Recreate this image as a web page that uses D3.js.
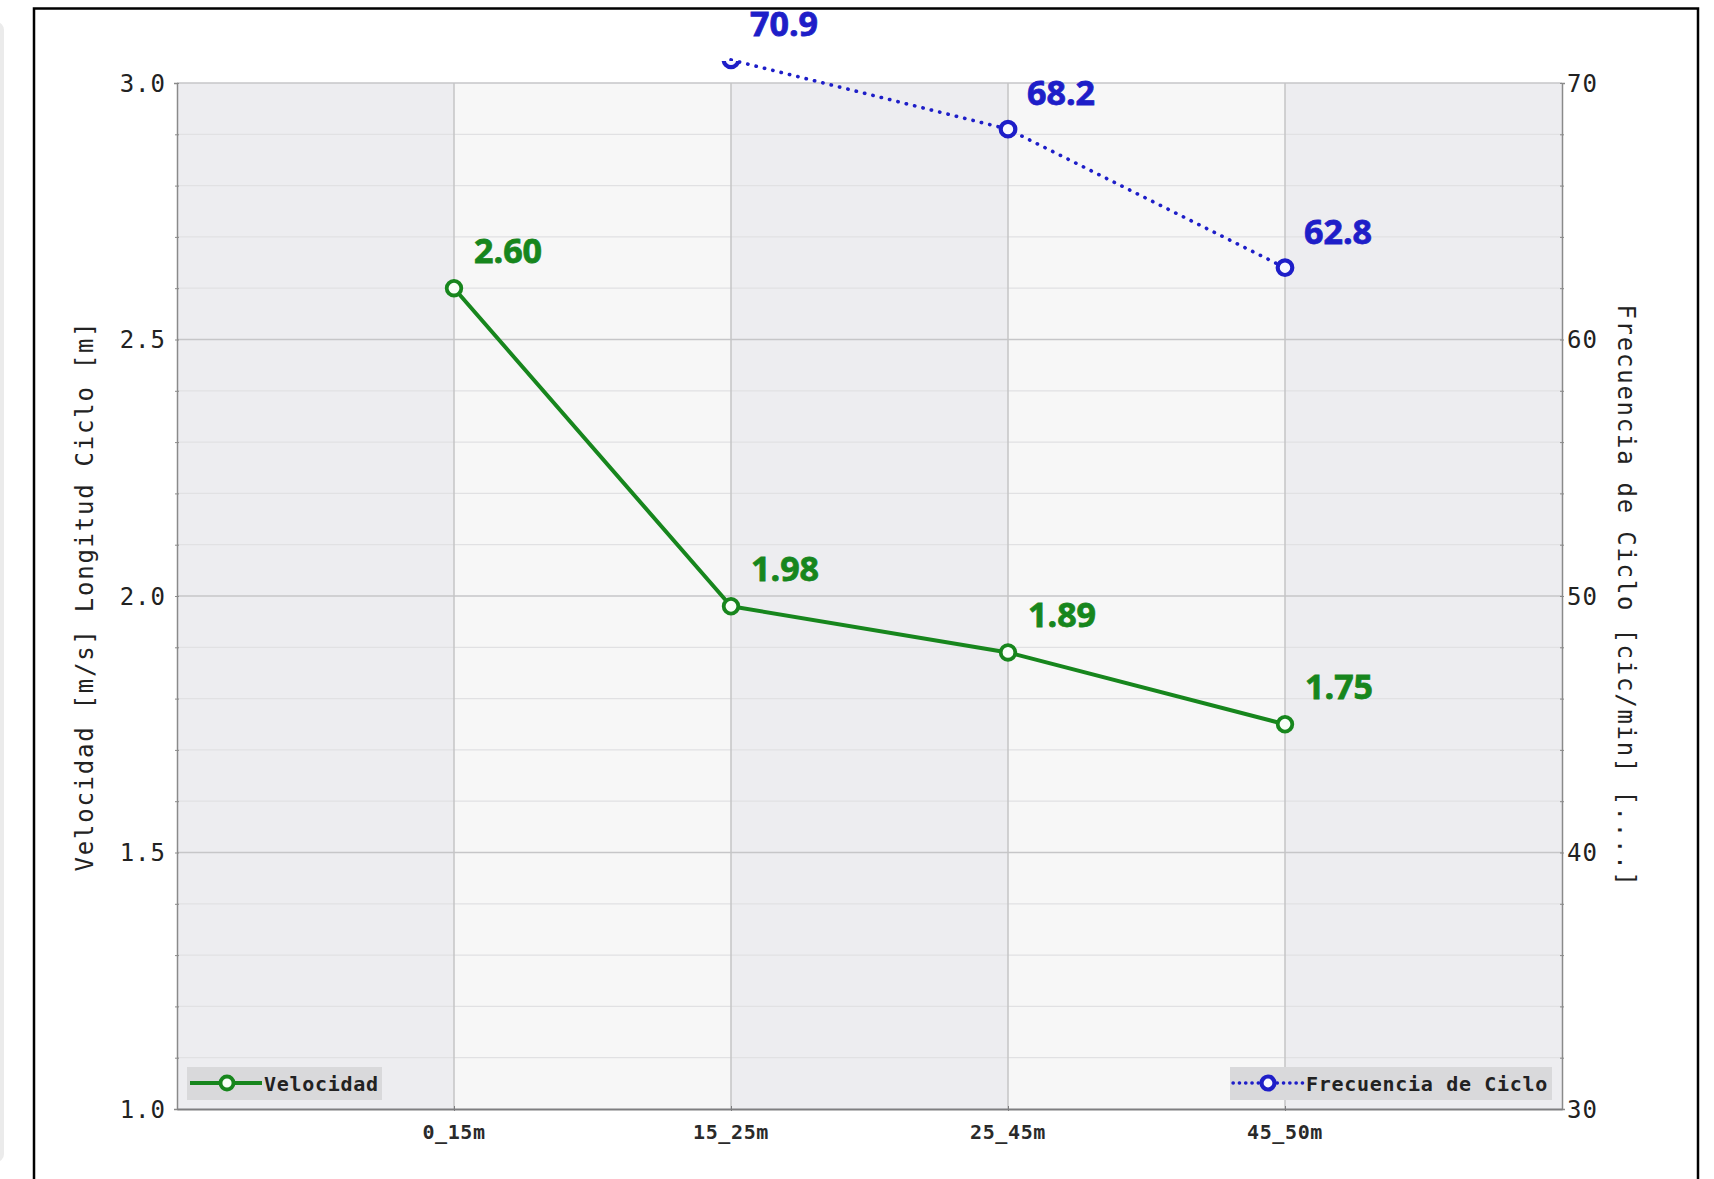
<!DOCTYPE html>
<html>
<head>
<meta charset="utf-8">
<script src="https://cdn.jsdelivr.net/npm/d3@7"></script>
<style>
  html, body { margin: 0; padding: 0; background: #ffffff; }
  svg { display: block; }
</style>
</head>
<body>
<script>
// ---------- data ----------
const categories = ["0_15m", "15_25m", "25_45m", "45_50m"];
const velocidad = [2.60, 1.98, 1.89, 1.75];
const frecuencia = [null, 70.9, 68.2, 62.8];
const velocidadLabels = ["2.60", "1.98", "1.89", "1.75"];
const frecuenciaLabels = [null, "70.9", "68.2", "62.8"];
const leftTicks = [1.0, 1.5, 2.0, 2.5, 3.0];
const rightTicks = [30, 40, 50, 60, 70];
const leftTitle = "Velocidad [m/s]  Longitud Ciclo [m]";
const rightTitle = "Frecuencia de Ciclo [cic/min] [....]";
const legendLeft = "Velocidad";
const legendRight = "Frecuencia de Ciclo";

// ---------- layout ----------
const W = 1714, H = 1179;
const L = 177, R = 1562, T = 83, B = 1109;
const GREEN = "#17861d", BLUE = "#1e1ec8";
const MONO = "'DejaVu Sans Mono', 'Liberation Mono', monospace";
const SANS = "'Open Sans', 'Noto Sans', sans-serif";

const svg = d3.select("body").append("svg").attr("width", W).attr("height", H);

// side panel and frame
svg.append("rect").attr("x", -20).attr("y", 22).attr("width", 24).attr("height", 1140)
  .attr("rx", 8).attr("fill", "#ebebeb");
svg.append("rect").attr("x", 34).attr("y", 8.5).attr("width", 1664).attr("height", 1300)
  .attr("fill", "none").attr("stroke", "#000").attr("stroke-width", 2.5);

// scales
const x = d3.scalePoint().domain(categories).range([L, R]).padding(1);
const step = x.step();
const yL = d3.scaleLinear().domain([1, 3]).range([B, T]);
const yR = d3.scaleLinear().domain([30, 70]).range([B, T]);

// background bands
const bandIdx = d3.range(categories.length + 1);
svg.append("g").selectAll("rect").data(bandIdx).join("rect")
  .attr("x", i => L + i * step).attr("y", T)
  .attr("width", step).attr("height", B - T)
  .attr("fill", i => i % 2 === 0 ? "#ededf0" : "#f7f7f7");

// minor / major horizontal grid
const minor = d3.range(0, 21).map(i => 1 + i * 0.1);
svg.append("g").selectAll("line").data(minor.filter((v, i) => i % 5 !== 0)).join("line")
  .attr("x1", L).attr("x2", R).attr("y1", d => yL(d)).attr("y2", d => yL(d))
  .attr("stroke", "#e1e1e3").attr("stroke-width", 1.2);
svg.append("g").selectAll("line").data(leftTicks.filter(d => d > 1)).join("line")
  .attr("x1", L).attr("x2", R).attr("y1", d => yL(d)).attr("y2", d => yL(d))
  .attr("stroke", "#c6c6c8").attr("stroke-width", 1.6);

// vertical grid at categories
svg.append("g").selectAll("line").data(categories).join("line")
  .attr("x1", d => x(d)).attr("x2", d => x(d)).attr("y1", T).attr("y2", B)
  .attr("stroke", "#c4c4c6").attr("stroke-width", 1.5);

// axes
const axLeft = svg.append("g").attr("transform", `translate(${L},0)`)
  .call(d3.axisLeft(yL).tickValues(minor).tickSize(3).tickFormat(""));
axLeft.select(".domain").attr("stroke", "#8a8a8a").attr("stroke-width", 1.5);
axLeft.selectAll(".tick line").attr("stroke", "#8a8a8a").attr("x2", -2).attr("x1", 2);

const axRight = svg.append("g").attr("transform", `translate(${R},0)`)
  .call(d3.axisRight(yR).tickValues(d3.range(30, 70.01, 2)).tickSize(3).tickFormat(""));
axRight.select(".domain").attr("stroke", "#8a8a8a").attr("stroke-width", 1.5);
axRight.selectAll(".tick line").attr("stroke", "#8a8a8a").attr("x1", -2).attr("x2", 2);

const axBottom = svg.append("g").attr("transform", `translate(0,${B})`)
  .call(d3.axisBottom(x).tickSize(3).tickSizeOuter(0).tickFormat(""));
axBottom.select(".domain").attr("stroke", "#7e7e80").attr("stroke-width", 2.2);
axBottom.selectAll(".tick line").attr("stroke", "#7e7e80").attr("y1", -3).attr("y2", 2);

// tick labels
svg.append("g").selectAll("text").data(leftTicks).join("text")
  .attr("x", 166).attr("y", d => yL(d) + 8.5)
  .attr("text-anchor", "end")
  .style("font-family", MONO).style("font-size", "24px").style("letter-spacing", "1px")
  .attr("fill", "#222").text(d => d.toFixed(1));
svg.append("g").selectAll("text").data(rightTicks).join("text")
  .attr("x", 1567).attr("y", d => yR(d) + 8.5)
  .style("font-family", MONO).style("font-size", "24px").style("letter-spacing", "1px")
  .attr("fill", "#222").text(d => d);
svg.append("g").selectAll("text").data(categories).join("text")
  .attr("x", d => x(d)).attr("y", 1139)
  .attr("text-anchor", "middle")
  .style("font-family", MONO).style("font-size", "20px").style("letter-spacing", "0.6px")
  .style("font-weight", "700")
  .attr("fill", "#2a2a2a").text(d => d);

// axis titles
svg.append("text")
  .attr("transform", `translate(93,${(T + B) / 2}) rotate(-90)`)
  .attr("text-anchor", "middle")
  .style("font-family", MONO).style("font-size", "24px").style("letter-spacing", "1.75px")
  .attr("fill", "#222").text(leftTitle);
svg.append("text")
  .attr("transform", `translate(1618,${(T + B) / 2}) rotate(90)`)
  .attr("text-anchor", "middle")
  .style("font-family", MONO).style("font-size", "24px").style("letter-spacing", "1.75px")
  .attr("fill", "#222").text(rightTitle);

// clip for markers
svg.append("defs").append("clipPath").attr("id", "mclip")
  .append("rect").attr("x", 0).attr("y", 61).attr("width", W).attr("height", H);

// velocidad line
const vData = categories.map((c, i) => ({ c, v: velocidad[i], lab: velocidadLabels[i] }));
svg.append("path").datum(vData)
  .attr("d", d3.line().x(d => x(d.c)).y(d => yL(d.v)))
  .attr("fill", "none").attr("stroke", GREEN).attr("stroke-width", 4)
  .attr("stroke-linejoin", "round");

// frecuencia line
const fData = categories.map((c, i) => ({ c, v: frecuencia[i], lab: frecuenciaLabels[i] }));
svg.append("path").datum(fData)
  .attr("d", d3.line().defined(d => d.v != null).x(d => x(d.c)).y(d => yR(d.v)))
  .attr("fill", "none").attr("stroke", BLUE).attr("stroke-width", 3.6)
  .attr("stroke-dasharray", "0.3 8.3").attr("stroke-linecap", "round");

// markers
const mk = svg.append("g").attr("clip-path", "url(#mclip)");
mk.selectAll("circle.v").data(vData).join("circle").attr("class", "v")
  .attr("cx", d => x(d.c)).attr("cy", d => yL(d.v)).attr("r", 7.3)
  .attr("fill", "#f8fff8").attr("stroke", GREEN).attr("stroke-width", 3.8);
mk.selectAll("circle.f").data(fData.filter(d => d.v != null)).join("circle").attr("class", "f")
  .attr("cx", d => x(d.c)).attr("cy", d => yR(d.v)).attr("r", 7.3)
  .attr("fill", "#f8f8ff").attr("stroke", BLUE).attr("stroke-width", 4.2);

// value labels
svg.append("g").selectAll("text").data(vData).join("text")
  .attr("x", d => x(d.c) + 20).attr("y", d => yL(d.v) - 25)
  .style("font-family", SANS).style("font-size", "34px").style("font-weight", "700")
  .attr("stroke", GREEN).attr("stroke-width", 0.8)
  .attr("fill", GREEN).text(d => d.lab);
svg.append("g").selectAll("text").data(fData.filter(d => d.v != null)).join("text")
  .attr("x", d => x(d.c) + 19).attr("y", d => yR(d.v) - 24)
  .style("font-family", SANS).style("font-size", "34px").style("font-weight", "700")
  .attr("stroke", BLUE).attr("stroke-width", 0.8)
  .attr("fill", BLUE).text(d => d.lab);

// legends
const lg1 = svg.append("g");
lg1.append("rect").attr("x", 187).attr("y", 1067).attr("width", 195).attr("height", 33)
  .attr("fill", "#d9d9db");
lg1.append("line").attr("x1", 190).attr("x2", 262).attr("y1", 1083).attr("y2", 1083)
  .attr("stroke", GREEN).attr("stroke-width", 4);
lg1.append("circle").attr("cx", 227).attr("cy", 1083).attr("r", 6.5)
  .attr("fill", "#f8fff8").attr("stroke", GREEN).attr("stroke-width", 3.8);
lg1.append("text").attr("x", 264).attr("y", 1091)
  .style("font-family", MONO).style("font-size", "20px").style("font-weight", "700")
  .style("letter-spacing", "0.7px").attr("fill", "#222").text(legendLeft);

const lg2 = svg.append("g");
lg2.append("rect").attr("x", 1230).attr("y", 1067).attr("width", 322).attr("height", 33)
  .attr("fill", "#d9d9db");
lg2.append("line").attr("x1", 1233).attr("x2", 1304).attr("y1", 1083).attr("y2", 1083)
  .attr("stroke", BLUE).attr("stroke-width", 3.4)
  .attr("stroke-dasharray", "0.3 6").attr("stroke-linecap", "round");
lg2.append("circle").attr("cx", 1268).attr("cy", 1083).attr("r", 6.5)
  .attr("fill", "#f8f8ff").attr("stroke", BLUE).attr("stroke-width", 4.2);
lg2.append("text").attr("x", 1306).attr("y", 1091)
  .style("font-family", MONO).style("font-size", "20px").style("font-weight", "700")
  .style("letter-spacing", "0.7px").attr("fill", "#222").text(legendRight);
</script>
</body>
</html>
